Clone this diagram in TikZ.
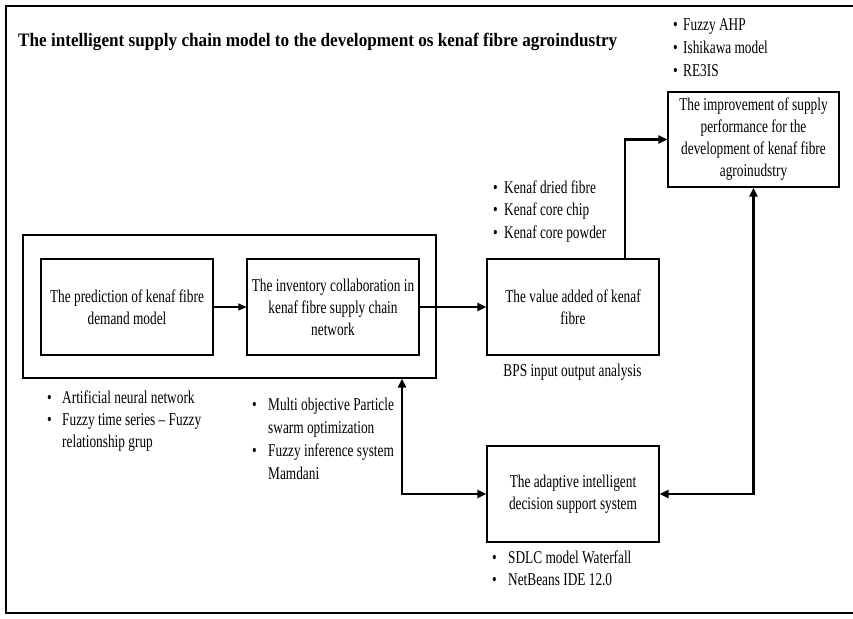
\documentclass[tikz,border=0pt]{standalone}
\usepackage{fontspec}
\setmainfont{Liberation Serif}[FakeStretch=0.74]
\usetikzlibrary{arrows.meta,shadows}
\newcommand\bul[1]{\makebox[#1][l]{\textbullet}}
\begin{document}
\begin{tikzpicture}[x=1pt,y=-1pt]
\tikzset{
  txt/.style={font=\fontsize{18}{22}\selectfont, inner sep=0pt},
  shadowed/.style={drop shadow={shadow xshift=1.3pt, shadow yshift=-1.3pt, opacity=0.35, fill=gray}},
  box/.style={txt, draw, line width=1.1pt, minimum width=172pt, minimum height=96pt,
              align=center, fill=white, shadowed},
  conn/.style={line width=2.2pt, -{Triangle[length=9pt,width=8pt]}},
  twoway/.style={line width=2.2pt, {Triangle[length=9pt,width=8pt]}-{Triangle[length=9pt,width=8pt]}},
  thinconn/.style={line width=1.1pt, -{Triangle[length=8pt,width=7pt]}},
  % lists are placed by the baseline of their last line
  list/.style={anchor=base west, align=left, inner sep=0pt}
}
\useasboundingbox (0,0) rectangle (853,618);

% outer frame, open on the right
\draw[line width=1.6pt] (870,6) -- (6,6) -- (6,613) -- (870,613);

% title
\node[anchor=base west, inner sep=0pt, font=\fontsize{19}{22}\selectfont\bfseries] (title) at (18,46)
  {\resizebox{599pt}{\height}{The intelligent supply chain model to the development os kenaf fibre agroindustry}};

% group around the first two stages
\node[draw, line width=1.1pt, minimum width=413pt, minimum height=143pt, fill=white, shadowed] (grp) at (229.5,306.5) {};

% stage boxes
\node[box] (pred) at (127,307) {The prediction of kenaf fibre\\demand model};
\node[box] (inv)  at (333,307) {The inventory collaboration in\\kenaf fibre supply chain\\network};
\node[box] (val)  at (573,307) {The value added of kenaf\\fibre};
\node[box] (dss)  at (573,494) {The adaptive intelligent\\decision support system};
\node[box, minimum width=171pt, minimum height=95pt] (imp) at (753.5,139.5)
  {The improvement of supply\\performance for the\\development of kenaf fibre\\agroinudstry};

% method lists
\node[list, font=\fontsize{18}{23.5}\selectfont] (lmp) at (673,77)
  {\bul{10pt}Fuzzy AHP\\\bul{10pt}Ishikawa model\\\bul{10pt}RE3IS};
\node[list, font=\fontsize{18}{22.5}\selectfont] (lval) at (493,238)
  {\bul{11pt}Kenaf dried fibre\\\bul{11pt}Kenaf core chip\\\bul{11pt}Kenaf core powder};
\node[list, font=\fontsize{18}{22}\selectfont] (lpred) at (47,447)
  {\bul{15pt}Artificial neural network\\\bul{15pt}Fuzzy time series -- Fuzzy\\\hspace*{15pt}relationship grup};
\node[list, font=\fontsize{18}{22.7}\selectfont] (linv) at (252,479)
  {\bul{16pt}Multi objective Particle\\\hspace*{16pt}swarm optimization\\\bul{16pt}Fuzzy inference system\\\hspace*{16pt}Mamdani};
\node[list, font=\fontsize{18}{22}\selectfont] (ldss) at (492,585)
  {\bul{16pt}SDLC model Waterfall\\\bul{16pt}NetBeans IDE 12.0};
\node[txt] (bps) at (572.5,372) {BPS input output analysis};

% connectors
\draw[thinconn] (pred.east) -- (inv.west);
\draw[conn] (inv.east) -- (val.west);
\draw[conn] ([xshift=52pt]val.north) |- (imp.west);
\draw[twoway] (imp.south) |- (dss.east);
\draw[twoway] ([xshift=172.5pt]grp.south) |- (dss.west);
\end{tikzpicture}
\end{document}
